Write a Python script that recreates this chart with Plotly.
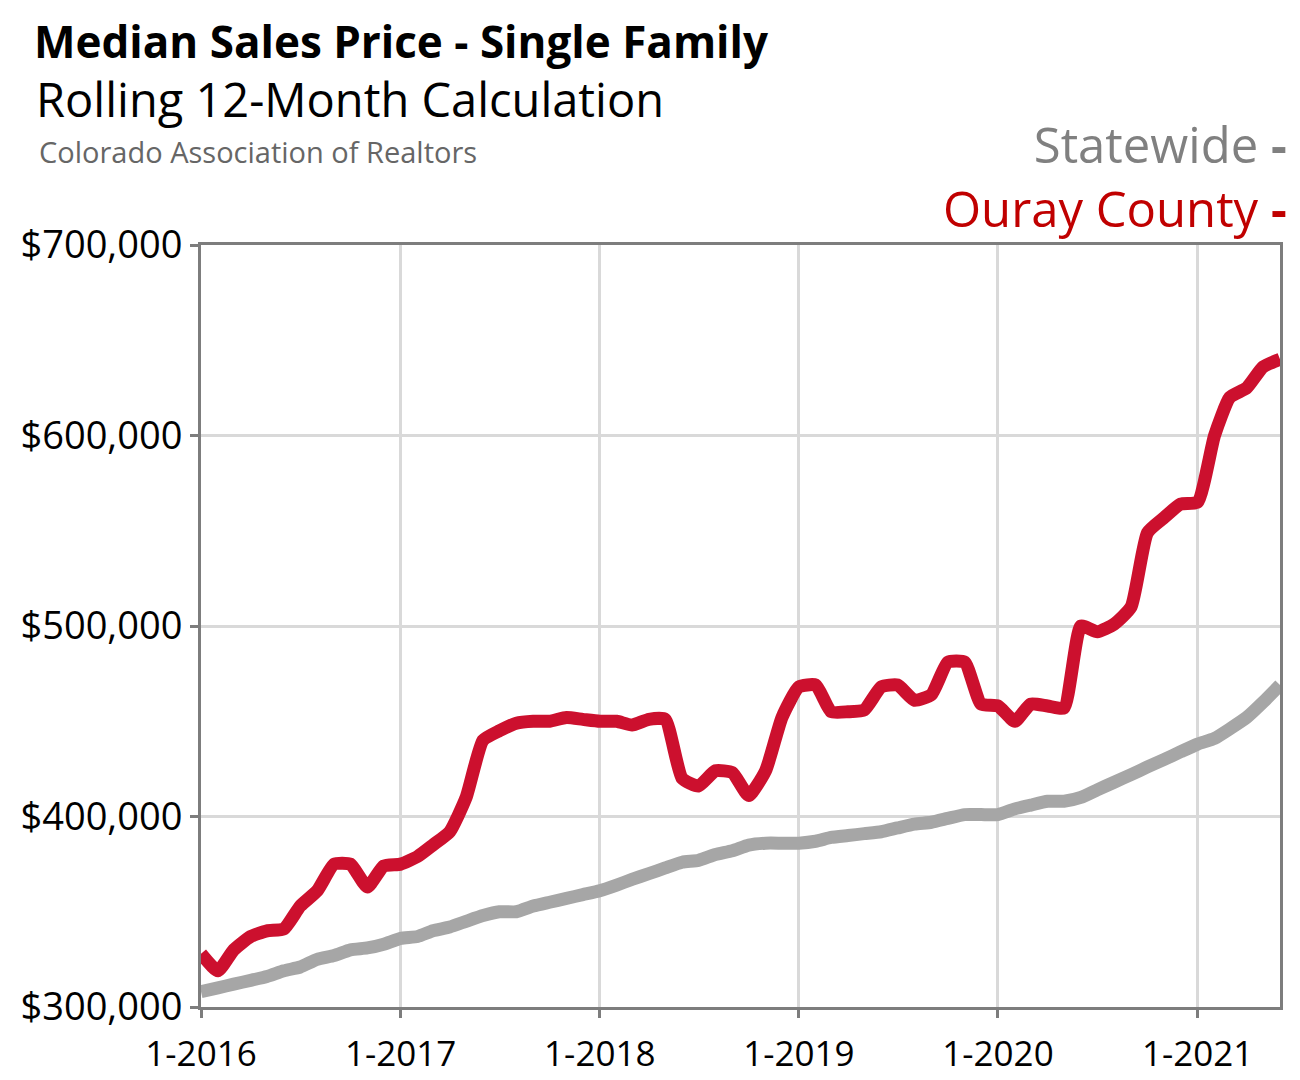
import plotly.graph_objects as go

colors = {'red': 'rgb(204,16,46)',
          'gray': 'rgb(166,166,166)',
          'axis': 'rgb(125,125,125)',
          'grid': 'rgb(217,217,217)',
          'legend_red': 'rgb(192,0,0)',
          'legend_gray': 'rgb(128,128,128)',
          }

# monthly, 1-2016 through 6-2021
months = ['%d-%02d-01' % (2016 + i // 12, i % 12 + 1) for i in range(66)]

ouray = [328000, 319000, 330000, 337000, 340000, 341000, 353000, 361000, 375000, 375000,
         363000, 374000, 375000, 379000, 385000, 392000, 410000, 440000, 445000, 449000,
         450000, 450000, 452000, 451000, 450000, 450000, 448000, 451000, 451000, 420000,
         416000, 424000, 423000, 411000, 424000, 452000, 468000, 469000, 455000, 455000,
         456000, 468000, 469000, 461000, 464000, 481000, 481000, 459000, 458000, 450000,
         459000, 458000, 457000, 500000, 497000, 501000, 510000, 549000, 557000, 564000,
         565000, 600000, 620000, 625000, 636000, 640000]

statewide = [308000, 310000, 312000, 314000, 316000, 319000, 321000, 325000, 327000, 330000,
             331000, 333000, 336000, 337000, 340000, 342000, 345000, 348000, 350000, 350000,
             353000, 355000, 357000, 359000, 361000, 364000, 367000, 370000, 373000, 376000,
             377000, 380000, 382000, 385000, 386000, 386000, 386000, 387000, 389000, 390000,
             391000, 392000, 394000, 396000, 397000, 399000, 401000, 401000, 401000, 404000,
             406000, 408000, 408000, 410000, 414000, 418000, 422000, 426000, 430000, 434000,
             438000, 441000, 446000, 452000, 460000, 469000]

tick_dates = ['2016-01-01', '2017-01-01', '2018-01-01', '2019-01-01', '2020-01-01', '2021-01-01']
tick_labels = ['1-2016', '1-2017', '1-2018', '1-2019', '1-2020', '1-2021']

font_name = 'Open Sans'

fig = go.Figure()
fig.add_trace(go.Scatter(x=months, y=statewide, mode='lines', name='Statewide',
                         line=dict(color=colors['gray'], width=13, shape='spline', smoothing=0.5)))
fig.add_trace(go.Scatter(x=months, y=ouray, mode='lines', name='Ouray County',
                         line=dict(color=colors['red'], width=13, shape='spline', smoothing=0.5)))

axis_style = dict(showgrid=True, gridcolor=colors['grid'], gridwidth=3,
                  showline=True, linecolor=colors['axis'], linewidth=3, mirror=True,
                  ticks='outside', ticklen=8, tickwidth=3, tickcolor=colors['axis'],
                  zeroline=False)
fig.update_xaxes(type='date', range=['2016-01-01', '2021-06-01'],
                 tickmode='array', tickvals=tick_dates, ticktext=tick_labels,
                 ticklabelstandoff=6,
                 tickfont=dict(family=font_name, size=35, color='black'), **axis_style)
fig.update_yaxes(range=[300000, 700000], dtick=100000, tickprefix='$', tickformat=',',
                 tickfont=dict(family=font_name, size=38, color='black'), **axis_style)

# page is drawn with an 8px offset, so the plot box is set from reference pixels minus 8
OFF = 8
W, H = 1300, 1080
L, T = 198 - OFF, 245 - OFF
R, B = W - (1280 - OFF), H - (1008 - OFF)
pw, ph = W - L - R, H - T - B


def px(x):
    return (x - OFF - L) / pw


def py(y):
    return (H - B - (y - OFF)) / ph


legend_text = ('<span style="color:%s">Statewide <b>-</b></span><br>'
               '<span style="color:%s">Ouray County <b>-</b></span>'
               % (colors['legend_gray'], colors['legend_red']))

texts = [
    ('<b>Median Sales Price - Single Family</b>', 29, 41, 'left', 44, 'black'),
    ('Rolling 12-Month Calculation', 31, 99, 'left', 47, 'black'),
    ('Colorado Association of Realtors', 34, 151, 'left', 29, 'rgb(102,102,102)'),
    (legend_text, 1289, 176, 'right', 49, colors['legend_gray']),
]
for txt, x, y, anchor, size, color in texts:
    fig.add_annotation(text=txt, xref='paper', yref='paper', x=px(x), y=py(y),
                       xanchor=anchor, yanchor='middle', align=anchor, showarrow=False,
                       font=dict(family=font_name, size=size, color=color))

fig.update_layout(width=W, height=H, showlegend=False,
                  plot_bgcolor='white', paper_bgcolor='white',
                  font=dict(family=font_name, color='black'),
                  margin=dict(l=L, r=R, t=T, b=B))

fig.write_html('out.html')
